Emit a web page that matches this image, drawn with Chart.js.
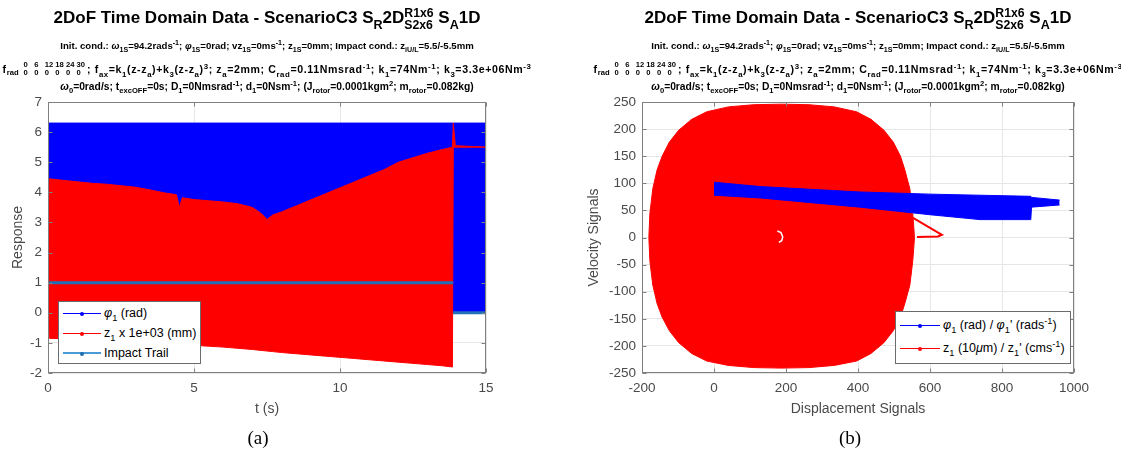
<!DOCTYPE html>
<html>
<head>
<meta charset="utf-8">
<script src="https://cdn.jsdelivr.net/npm/chart.js@4.4.1/dist/chart.umd.min.js"></script>
<style>
  html, body { margin: 0; padding: 0; background: #fff; }
  #wrap { position: relative; width: 1121px; height: 452px; overflow: hidden;
          font-family: "Liberation Sans", Arial, sans-serif; color: #000; }
  canvas { position: absolute; top: 0; }
  .ttl { position: absolute; transform: translateX(-50%); white-space: nowrap; line-height: 1; }
  .main { font-weight: bold; font-size: 17px; }
  .sub { font-weight: bold; }
  .l1 { font-size: 9.6px; }
  .l2 { font-size: 10.6px; letter-spacing: 0.6px; }
  .l3 { font-size: 10.3px; }
  sub, sup { font-size: 74%; line-height: 0; position: relative; vertical-align: baseline; }
  sub { top: 0.45em; }
  sup { top: -0.5em; }
  .stk { display: inline-flex; flex-direction: column; font-size: 72%; line-height: 1.02;
         vertical-align: 0.5em; }
  .mtx { display: inline-flex; flex-direction: column; font-size: 72%; line-height: 1.05;
         vertical-align: 0.55em; letter-spacing: 0; }
  .mtx span { display: flex; }
  .mtx b { font-weight: bold; display: inline-block; width: 10.6px; }
  .lg { position: absolute; border: 1px solid #6b6b6b; background: #fff; font-size: 12.5px; }
  .row { position: absolute; left: 0; right: 0; height: 18px; line-height: 18px; white-space: nowrap; }
  .row .ln { position: absolute; top: 9px; height: 1px; }
  .row .dot { position: absolute; top: 7.5px; width: 4px; height: 4px; border-radius: 50%; }
  .row .tx { position: absolute; top: 0; }
  .cap { position: absolute; transform: translateX(-50%); font-family: "Liberation Serif", "Times New Roman", serif;
         font-size: 19px; line-height: 1; }
</style>
</head>
<body>
<div id="wrap">
  <canvas id="left" width="560" height="452" style="left:0"></canvas>
  <canvas id="right" width="561" height="452" style="left:560px"></canvas>
  <div id="titles"></div>

  <!-- legend (a) -->
  <div class="lg" style="left:58px;top:301px;width:141px;height:61px">
    <div class="row" style="top:2px"><span class="ln" style="left:4px;width:38px;background:#0000ff"></span><span class="dot" style="left:21px;background:#0000ff"></span><span class="tx" style="left:45px"><i>φ</i><sub>1</sub> (rad)</span></div>
    <div class="row" style="top:22px"><span class="ln" style="left:4px;width:38px;background:#ff0000"></span><span class="dot" style="left:21px;background:#ff0000"></span><span class="tx" style="left:45px">z<sub>1</sub> x 1e+03 (mm)</span></div>
    <div class="row" style="top:42px"><span class="ln" style="left:4px;width:38px;height:2px;top:8px;background:#4a9ad6"></span><span class="dot" style="left:21px;background:#1f6fb0"></span><span class="tx" style="left:45px">Impact Trail</span></div>
  </div>

  <!-- legend (b) -->
  <div class="lg" style="left:895px;top:311px;width:174px;height:51px">
    <div class="row" style="top:4px"><span class="ln" style="left:4px;width:40px;background:#0000ff"></span><span class="dot" style="left:22px;background:#0000ff"></span><span class="tx" style="left:47px"><i>φ</i><sub>1</sub> (rad) / <i>φ</i><sub>1</sub>' (rads<sup>-1</sup>)</span></div>
    <div class="row" style="top:27px"><span class="ln" style="left:4px;width:40px;background:#ff0000"></span><span class="dot" style="left:22px;background:#ff0000"></span><span class="tx" style="left:47px">z<sub>1</sub> (10<i>μ</i>m) / z<sub>1</sub>' (cms<sup>-1</sup>)</span></div>
  </div>

  <div class="cap" style="left:258px;top:428px">(a)</div>
  <div class="cap" style="left:850px;top:428px">(b)</div>
</div>

<script>
// ---- (a) time response: envelopes of the fast oscillations ----
// φ1 wraps between 0 and 2π over the whole run
const phiTime = [0, 15];
const phiHigh = [6.3, 6.3];
const phiLow  = [0, 0];

// z1 x 1e3 (mm): upper / lower envelope, then the settled value after the impact
const zTime = [0, 0.05, 0.5, 1, 1.5, 2, 2.5, 3, 3.5, 4, 4.4, 4.5, 4.6, 5, 5.5, 6, 6.5, 7, 7.3, 7.5, 7.7,
               8, 8.5, 9, 9.5, 10, 10.5, 11, 11.5, 12, 12.5, 13, 13.5, 13.85, 13.88, 13.95, 15];
const zHigh = [3.0, 4.45, 4.4, 4.35, 4.3, 4.27, 4.22, 4.17, 4.08, 3.98, 3.92, 3.5, 3.82, 3.76, 3.72, 3.68, 3.62, 3.5, 3.3, 3.1, 3.25,
               3.35, 3.55, 3.75, 3.95, 4.15, 4.35, 4.55, 4.75, 5.0, 5.15, 5.3, 5.42, 5.5, 6.3, 5.55, 5.5];
const zLow  = [0.0, -0.85, -0.86, -0.88, -0.9, -0.92, -0.94, -0.96, -0.99, -1.02, -1.04, -1.05, -1.06, -1.08, -1.11, -1.14, -1.18, -1.22, -1.25, -1.27, -1.29,
               -1.32, -1.36, -1.4, -1.44, -1.48, -1.52, -1.56, -1.6, -1.64, -1.68, -1.72, -1.76, -1.8, 5.5, 5.5, 5.5];

// impact trail: 1 while impacting, 0 after
const trailTime  = [0, 13.87, 13.87, 13.87, 15];
const trailValue = [1, 1, null, 0, 0];

// ---- (b) phase portrait ----
// z1 orbit fills a disc: upper and lower boundary
const discX    = [-181, -178, -170, -158, -144, -124, -98, -62, -20, 40, 110, 187, 264, 334, 396, 436, 472, 498, 518, 530, 544, 552, 557];
const discHigh = [0, 45, 90, 125, 150, 176, 198, 218, 232, 241, 245, 246, 245, 241, 232, 218, 198, 176, 150, 125, 90, 45, 0];
const discLow  = [0, -44, -88, -122, -147, -172, -194, -214, -228, -236, -240, -241, -240, -236, -228, -214, -194, -172, -147, -122, -88, -44, 0];
// short excursion leaving the disc on the right
const tailX = [553, 633, 622, 564];
const tailY = [36, 5, 2, 1];
// start of the z1 orbit
const startX = [176, 186, 191, 188, 180];
const startY = [12, 9, 1, -6, -9];

// φ1 / φ1' band
const phX    = [0, 128, 405, 600, 739, 880, 882, 960];
const phHigh = [102, 94, 84, 80, 78, 76, 74, 69];
const phLow  = [78, 73, 56, 42, 33, 33, 56, 60];

// ticks
const tTicks = [0, 5, 10, 15];
const respTicks = [-2, -1, 0, 1, 2, 3, 4, 5, 6, 7];
const dispTicks = [-200, 0, 200, 400, 600, 800, 1000];
const velTicks = [-250, -200, -150, -100, -50, 0, 50, 100, 150, 200, 250];

// excitation table shown in the parameter line
const fradOrders = ['0', '6', '12', '18', '24', '30'];
const fradAmps   = ['0', '0', '0', '0', '0', '0'];

// ---- title block (same for both panels) ----
function titleBlock(cx) {
  const top = fradOrders.map(v => `<b>${v}</b>`).join('');
  const bot = fradAmps.map(v => `<b>${v}</b>`).join('');
  return `
  <div class="ttl main" style="left:${cx}px;top:7px">2DoF Time Domain Data - ScenarioC3 S<sub>R</sub>2D<span class="stk"><span>R1x6</span><span>S2x6</span></span> S<sub>A</sub>1D</div>
  <div class="ttl sub l1" style="left:${cx}px;top:41px">Init. cond.: <i>ω</i><sub>1S</sub>=94.2rads<sup>-1</sup>; <i>φ</i><sub>1S</sub>=0rad; vz<sub>1S</sub>=0ms<sup>-1</sup>; z<sub>1S</sub>=0mm; Impact cond.: z<sub>iU/L</sub>=5.5/-5.5mm</div>
  <div class="ttl sub l2" style="left:${cx}px;top:61px">f<span class="mtx"><span><b style="width:2.2em"></b>${top}</span><span><b style="width:2.2em">rad</b>${bot}</span></span>; f<sub>ax</sub>=k<sub>1</sub>(z-z<sub>a</sub>)+k<sub>3</sub>(z-z<sub>a</sub>)<sup>3</sup>; z<sub>a</sub>=2mm; C<sub>rad</sub>=0.11Nmsrad<sup>-1</sup>; k<sub>1</sub>=74Nm<sup>-1</sup>; k<sub>3</sub>=3.3e+06Nm<sup>-3</sup></div>
  <div class="ttl sub l3" style="left:${cx}px;top:82px"><i>ω</i><sub>0</sub>=0rad/s; t<sub>excOFF</sub>=0s; D<sub>1</sub>=0Nmsrad<sup>-1</sup>; d<sub>1</sub>=0Nsm<sup>-1</sup>; (J<sub>rotor</sub>=0.0001kgm<sup>2</sup>; m<sub>rotor</sub>=0.082kg)</div>`;
}
document.getElementById('titles').innerHTML = titleBlock(267) + titleBlock(858);

const BLUE = '#0000ff', RED = '#ff0000', TRAIL = '#1f72b8';
const FONT = '"Liberation Sans", Arial, sans-serif';
const pts = (xs, ys) => xs.map((x, i) => ({ x, y: ys[i] }));

function bandPair(xs, hi, lo, color, order) {
  return [
    { data: pts(xs, hi), borderColor: color, borderWidth: 1, pointRadius: 0, fill: false, order },
    { data: pts(xs, lo), borderColor: color, borderWidth: 1, pointRadius: 0, fill: '-1', backgroundColor: color, order }
  ];
}

// axes box with inward tick marks
const frame = {
  id: 'frame',
  afterDraw(chart) {
    const a = chart.chartArea, c = chart.ctx;
    c.save();
    c.strokeStyle = '#808080';
    c.lineWidth = 1;
    const L = Math.round(a.left) + 0.5, T = Math.round(a.top) + 0.5;
    const R = Math.round(a.right) - 0.5, B = Math.round(a.bottom) - 0.5;
    c.strokeRect(L, T, R - L, B - T);
    c.beginPath();
    chart.scales.x.ticks.forEach(t => {
      const px = Math.round(chart.scales.x.getPixelForValue(t.value)) + 0.5;
      c.moveTo(px, B); c.lineTo(px, B - 4);
      c.moveTo(px, T); c.lineTo(px, T + 4);
    });
    chart.scales.y.ticks.forEach(t => {
      const py = Math.round(chart.scales.y.getPixelForValue(t.value)) + 0.5;
      c.moveTo(L, py); c.lineTo(L + 4, py);
      c.moveTo(R, py); c.lineTo(R - 4, py);
    });
    c.stroke();
    c.restore();
  }
};

function axis(min, max, ticks, title, isY, width) {
  return {
    type: 'linear', min, max,
    afterBuildTicks: s => { s.ticks = ticks.map(v => ({ value: v })); },
    afterFit: s => { if (isY) s.width = width; else s.height = 49; },
    grid: { color: '#e6e6e6', drawTicks: false },
    border: { display: false },
    ticks: { color: '#4a4a4a', font: { family: FONT, size: 13.5 }, padding: isY ? 6 : 7,
             maxRotation: 0, autoSkip: false, callback: v => String(v) },
    title: { display: true, text: title, color: '#4a4a4a', font: { family: FONT, size: 14 } }
  };
}

const common = {
  responsive: false, animation: false, devicePixelRatio: 1, events: [],
  plugins: { legend: { display: false }, tooltip: { enabled: false } },
  elements: { line: { tension: 0 } }
};

new Chart(document.getElementById('left'), {
  type: 'line',
  data: {
    datasets: [
      ...bandPair(phiTime, phiHigh, phiLow, BLUE, 2),
      ...bandPair(zTime, zHigh, zLow, RED, 1),
      { data: pts(trailTime, trailValue), borderColor: TRAIL, borderWidth: 3, pointRadius: 0, fill: false, spanGaps: false, order: 0 }
    ]
  },
  options: {
    ...common,
    layout: { padding: { left: 6, top: 102, right: 74, bottom: 30 } },
    scales: {
      x: axis(0, 15, tTicks, 't (s)', false),
      y: axis(-2, 7, respTicks, 'Response', true, 42)
    }
  },
  plugins: [frame]
});

new Chart(document.getElementById('right'), {
  type: 'line',
  data: {
    datasets: [
      ...bandPair(discX, discHigh, discLow, RED, 3),
      { data: pts(tailX, tailY), borderColor: RED, borderWidth: 2, pointRadius: 0, fill: false, order: 2 },
      { data: pts(startX, startY), borderColor: '#ffffff', borderWidth: 1.5, pointRadius: 0, fill: false, order: 2 },
      ...bandPair(phX, phHigh, phLow, BLUE, 1)
    ]
  },
  options: {
    ...common,
    layout: { padding: { left: 22, top: 102, right: 47, bottom: 30 } },
    scales: {
      x: axis(-200, 1000, dispTicks, 'Displacement Signals', false),
      y: axis(-250, 250, velTicks, 'Velocity Signals', true, 60)
    }
  },
  plugins: [frame]
});
</script>
</body>
</html>
